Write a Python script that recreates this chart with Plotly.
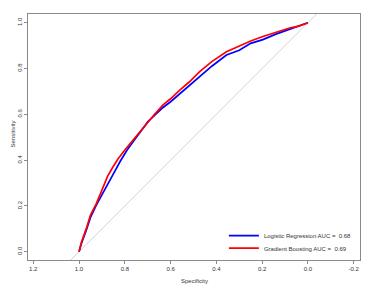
import plotly.graph_objects as go

# Data
lr_spec = [1.0, 0.99, 0.968, 0.95, 0.924, 0.895, 0.873, 0.85, 0.82, 0.79, 0.764, 0.73, 0.699, 0.67, 0.633,
           0.60, 0.56, 0.52, 0.473, 0.42, 0.356, 0.30, 0.25, 0.197, 0.14, 0.08, 0.04, 0.0]
lr_sens = [0.0, 0.035, 0.095, 0.15, 0.205, 0.26, 0.299, 0.34, 0.395, 0.444, 0.48, 0.525, 0.568, 0.595, 0.63,
           0.655, 0.69, 0.725, 0.764, 0.81, 0.859, 0.88, 0.91, 0.926, 0.95, 0.972, 0.985, 1.0]
gb_spec = [1.0, 0.99, 0.968, 0.95, 0.924, 0.895, 0.875, 0.852, 0.83, 0.80, 0.764, 0.73, 0.699, 0.67, 0.633,
           0.60, 0.56, 0.52, 0.473, 0.42, 0.356, 0.30, 0.25, 0.197, 0.14, 0.08, 0.04, 0.0]
gb_sens = [0.0, 0.04, 0.102, 0.16, 0.211, 0.277, 0.33, 0.37, 0.405, 0.444, 0.488, 0.53, 0.568, 0.60, 0.641,
           0.668, 0.706, 0.74, 0.786, 0.83, 0.873, 0.898, 0.92, 0.94, 0.958, 0.977, 0.985, 1.0]
model_names = ["Logistic Regression", "Gradient Boosting"]
model_auc = [0.68, 0.69]
model_colors = ["#0000FF", "#FF0000"]
diag_x = [1.3, -0.3]
diag_y = [-0.3, 1.3]
x_ticks = [1.2, 1.0, 0.8, 0.6, 0.4, 0.2, 0.0, -0.2]
y_ticks = [0.0, 0.2, 0.4, 0.6, 0.8, 1.0]
x_title = "Specificity"
y_title = "Sensitivity"

FONT = "Liberation Sans, Arial, sans-serif"
TXT = "#333333"
fig = go.Figure()
fig.add_trace(go.Scatter(x=diag_x, y=diag_y, mode="lines", line=dict(color="#D3D3D3", width=1),
                         showlegend=False, hoverinfo="skip"))
legend_ids = ["legend", "legend2"]
for sx, sy, name, auc, col, lg in [(lr_spec, lr_sens, model_names[0], model_auc[0], model_colors[0], legend_ids[0]),
                                   (gb_spec, gb_sens, model_names[1], model_auc[1], model_colors[1], legend_ids[1])]:
    fig.add_trace(go.Scatter(x=sx, y=sy, mode="lines", line=dict(color=col, width=1.7),
                             name=f"{name} AUC =  {auc:.2f}", legend=lg))

axis_common = dict(showline=True, mirror=True, linecolor="#8a8a8a", linewidth=1, showgrid=False,
                   zeroline=False, ticks="outside", ticklen=3, tickcolor="#8a8a8a", tickwidth=1,
                   automargin=False,
                   tickfont=dict(family=FONT, size=6, color=TXT))
fig.update_xaxes(range=[1.223, -0.2275], tickvals=x_ticks, ticktext=[f"{v:.1f}" for v in x_ticks],
                 **axis_common)
fig.update_yaxes(range=[-0.036, 1.038], tickvals=y_ticks, ticktext=[f"{v:.1f}" for v in y_ticks],
                 tickangle=-90, **axis_common)
fig.add_annotation(text=x_title, xref="paper", yref="paper", x=0.5, y=0, xanchor="center",
                   yanchor="middle", yshift=-21, showarrow=False, font=dict(family=FONT, size=6, color=TXT))
fig.add_annotation(text=y_title, xref="paper", yref="paper", x=0, y=0.51, xanchor="center",
                   yanchor="middle", xshift=-15, textangle=-90, showarrow=False,
                   font=dict(family=FONT, size=6, color=TXT))
leg_common = dict(xanchor="left", yanchor="middle", bgcolor="rgba(0,0,0,0)",
                  font=dict(family=FONT, size=6, color=TXT), itemwidth=30)
fig.update_layout(width=366, height=281, margin=dict(l=20, r=14, t=6, b=29),
                  plot_bgcolor="white", paper_bgcolor="white",
                  legend=dict(x=0.59, y=0.099, **leg_common),
                  legend2=dict(x=0.59, y=0.048, **leg_common))
fig.write_html("out.html")
